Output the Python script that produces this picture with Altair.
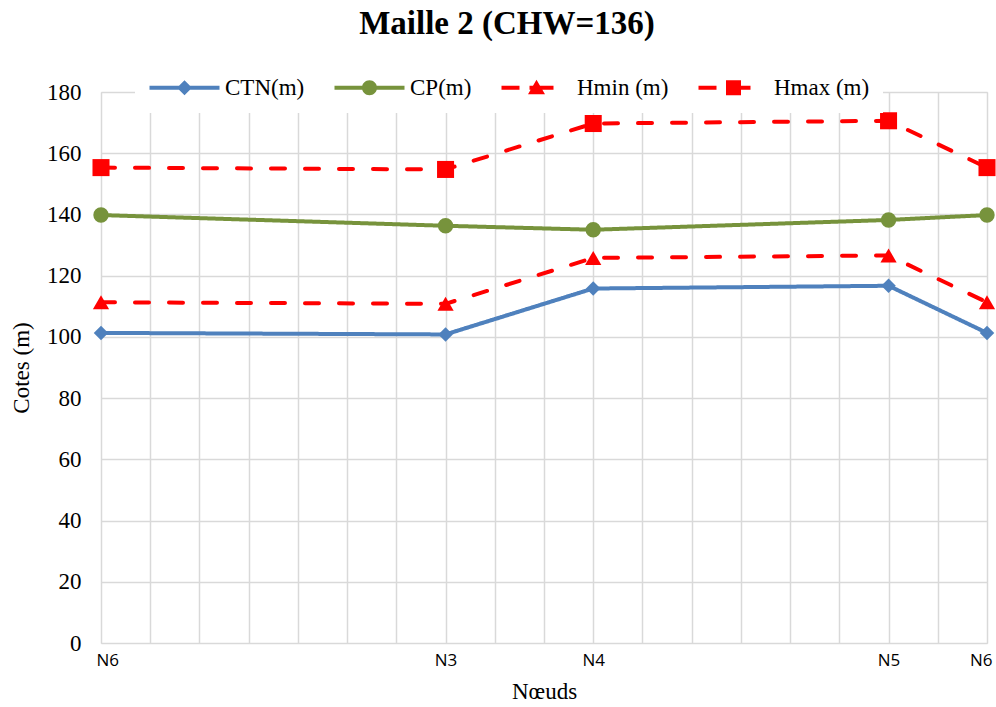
import altair as alt
import pandas as pd

# Nodes along the loop (Maille 2) and their position on the distance axis
nodes = ["N6", "N3", "N4", "N5", "N6"]
node_pos = [0, 7, 10, 16, 18]

# Elevations (m)
ctn = [101.3, 100.8, 115.8, 116.7, 101.3]
cp = [139.8, 136.3, 135.0, 138.2, 139.8]
hmin = [111.3, 110.8, 125.8, 126.6, 111.3]
hmax = [155.3, 154.7, 169.7, 170.6, 155.3]

series_names = ["CTN(m)", "CP(m)", "Hmin (m)", "Hmax (m)"]
series_colors = ["#4F81BD", "#77933C", "#FF0000", "#FF0000"]
series_dash = [[1, 0], [1, 0], [14, 20], [14, 20]]
series_shapes = ["diamond", "circle", "triangle-up", "square"]
series_sizes = [210, 290, 280, 250]

# Legend glyphs: a line segment with the marker in the middle (units of 10 px)
legend_paths = [
    "M-3.5,-0.2H3.5V0.2H-3.5Z M0,-0.75L0.75,0L0,0.75L-0.75,0Z",
    "M-3.5,-0.2H3.5V0.2H-3.5Z M0.75,0A0.75,0.75 0 1,1 -0.75,0A0.75,0.75 0 1,1 0.75,0Z",
    "M-3.5,-0.2H-1.7V0.2H-3.5Z M-0.7,-0.2H1.7V0.2H-0.7Z M0,-0.8L0.85,0.65H-0.85Z",
    "M-3.5,-0.2H-1.7V0.2H-3.5Z M-0.7,-0.2H1.7V0.2H-0.7Z M-0.75,-0.75H0.75V0.75H-0.75Z",
]

rows = []
for name, vals in zip(series_names, [ctn, cp, hmin, hmax]):
    for p, n, v in zip(node_pos, nodes, vals):
        rows.append({"pos": p, "noeud": n, "serie": name, "valeur": v})
df = pd.DataFrame(rows)

label_expr = " : ".join(f"datum.value == {p} ? '{n}'" for p, n in zip(node_pos, nodes)) + " : ''"

serif = "Liberation Serif"
grid_color = "#D9D9D9"

x_enc = alt.X(
    "pos:Q",
    scale=alt.Scale(domain=[0, 18], nice=False, zero=False),
    axis=alt.Axis(
        values=list(range(0, 19)),
        labelExpr=label_expr,
        title="Nœuds",
        grid=True,
        gridColor=grid_color,
        gridWidth=1.5,
        ticks=False,
        domain=False,
        labelFlush=True,
        labelFlushOffset=5,
        labelOverlap=False,
        labelFont="Open Sans",
        labelFontSize=17,
        labelColor="black",
        labelPadding=9,
        titleFont=serif,
        titleFontSize=23,
        titleFontWeight="normal",
        titleColor="black",
        titlePadding=12,
    ),
)
y_enc = alt.Y(
    "valeur:Q",
    scale=alt.Scale(domain=[0, 180], nice=False),
    axis=alt.Axis(
        values=list(range(0, 181, 20)),
        title="Cotes (m)",
        grid=True,
        gridColor=grid_color,
        gridWidth=1.5,
        ticks=False,
        domain=False,
        labelFont=serif,
        labelFontSize=23,
        labelColor="black",
        labelPadding=20,
        titleFont=serif,
        titleFontSize=23,
        titleFontWeight="normal",
        titleColor="black",
        titlePadding=13,
    ),
)

color_scale = alt.Scale(domain=series_names, range=series_colors)

base = alt.Chart(df)

lines = base.mark_line(strokeWidth=4, strokeCap="round", strokeJoin="round").encode(
    x=x_enc,
    y=y_enc,
    color=alt.Color("serie:N", scale=color_scale, legend=None),
    strokeDash=alt.StrokeDash("serie:N", scale=alt.Scale(domain=series_names, range=series_dash), legend=None),
)

points = base.mark_point(filled=True, opacity=1).encode(
    x=x_enc,
    y=y_enc,
    color=alt.Color("serie:N", scale=color_scale, legend=None),
    shape=alt.Shape("serie:N", scale=alt.Scale(domain=series_names, range=series_shapes), legend=None),
    size=alt.Size("serie:N", scale=alt.Scale(domain=series_names, range=series_sizes), legend=None),
)

legend = alt.Legend(
    title=None,
    orient="none",
    legendX=34,
    legendY=-29,
    direction="horizontal",
    columns=4,
    symbolSize=400,
    symbolStrokeWidth=0,
    symbolOffset=25,
    labelOffset=29,
    columnPadding=28,
    padding=13,
    fillColor="white",
    labelFont=serif,
    labelFontSize=23,
    labelColor="black",
    labelLimit=0,
    symbolOpacity=1,
)

legend_layer = base.transform_filter("false").mark_point(filled=True, opacity=1).encode(
    color=alt.Color("serie:N", scale=color_scale, legend=legend),
    shape=alt.Shape("serie:N", scale=alt.Scale(domain=series_names, range=legend_paths), legend=legend),
)

chart = (
    alt.layer(lines, points, legend_layer)
    .resolve_scale(color="independent", shape="independent")
    .properties(
        width=886,
        height=551,
        autosize=alt.AutoSizeParams(type="none"),
        padding={"left": 101, "top": 92, "right": 9, "bottom": 64},
        title=alt.Title(
            "Maille 2 (CHW=136)",
            font=serif,
            fontSize=33,
            fontWeight="bold",
            color="black",
            anchor="middle",
            dx=-37,
            dy=-18,
        ),
    )
    .configure_view(stroke=None)
    .configure(background="white")
)

chart.save("out.html", embed_options={"renderer": "svg", "actions": False})
